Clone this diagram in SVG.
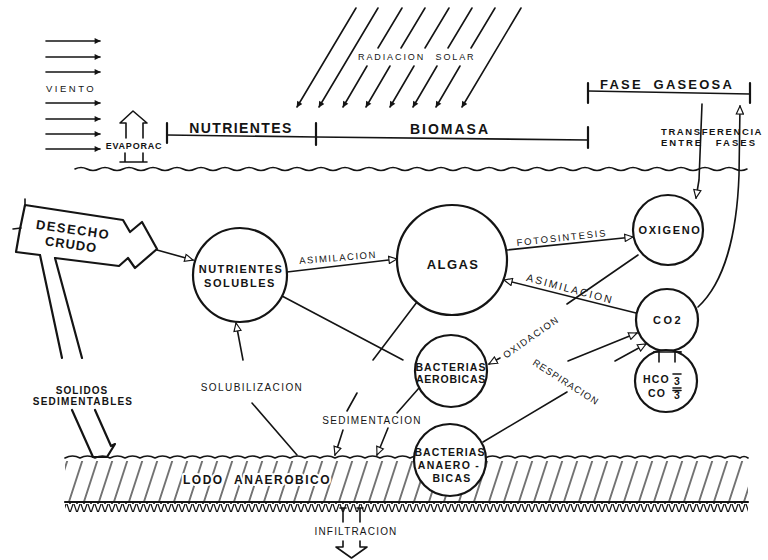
<svg xmlns="http://www.w3.org/2000/svg" width="768" height="560" viewBox="0 0 768 560">
<style>
.ln{stroke:#141414;fill:none;stroke-width:1.6;stroke-linecap:round;stroke-linejoin:round}
.thk{stroke-width:2.2}
.node circle{fill:#fff;stroke:#141414;stroke-width:2.2}
.t{font-family:"Liberation Sans",Arial,sans-serif;fill:#141414}
.b{font-weight:bold}
.halo{stroke:#fff;stroke-width:4;paint-order:stroke;stroke-linejoin:round}
.arr{marker-end:url(#open)}
.sol{marker-end:url(#solid)}
</style>
<defs>
<marker id="open" viewBox="0 0 10 10" refX="9.5" refY="5" markerWidth="10" markerHeight="9" orient="auto" markerUnits="userSpaceOnUse">
<path d="M0.5,1 L9.5,5 L0.5,9 Z" fill="#fff" stroke="#141414" stroke-width="1.3"/>
</marker>
<marker id="solid" viewBox="0 0 10 10" refX="9" refY="5" markerWidth="7" markerHeight="6" orient="auto" markerUnits="userSpaceOnUse">
<path d="M0,0 L10,5 L0,10 Z" fill="#141414"/>
</marker>
<pattern id="hatch" width="15" height="50" patternUnits="userSpaceOnUse" patternTransform="skewX(-18)">
<line x1="7" y1="-2" x2="7" y2="52" stroke="#141414" stroke-width="1.2"/>
</pattern>
<pattern id="ground" width="7" height="9" patternUnits="userSpaceOnUse">
<path d="M0,9 L3,0 M4,0 L7,9" stroke="#141414" stroke-width="1.2" fill="none"/>
</pattern>
</defs>
<rect width="768" height="560" fill="#fff"/>

<!-- wind -->
<g id="viento">
<path class="ln sol" d="M46,41 H100"/>
<path class="ln sol" d="M46,57 H100"/>
<path class="ln sol" d="M46,72 H100"/>
<path class="ln sol" d="M46,103 H100"/>
<path class="ln sol" d="M46,119 H100"/>
<path class="ln sol" d="M46,134 H100"/>
<path class="ln sol" d="M46,149 H100"/>
<text class="t" x="46" y="91.5" font-size="9.5" letter-spacing="2.5">VIENTO</text>
</g>

<!-- evaporation -->
<g id="evaporac">
<path class="ln" d="M126,138 L126,123 L120,123 L133,111 L147,123 L143,123 L143,138"/>
<text class="t b" x="134" y="149" font-size="9" letter-spacing="0.8" text-anchor="middle">EVAPORAC</text>
<path class="ln" d="M125,153 V162 M143,153 V162 M120,162 H147"/>
</g>

<!-- solar radiation -->
<g id="radiacion">
<path class="ln sol" d="M356,8 L297,107"/>
<path class="ln sol" d="M378,8 L319,107"/>
<path class="ln sol" d="M367,66 L343,107"/>
<path class="ln sol" d="M390,66 L366,107"/>
<path class="ln sol" d="M414,66 L390,107"/>
<path class="ln sol" d="M437,66 L413,107"/>
<path class="ln sol" d="M460,66 L436,107"/>
<path class="ln sol" d="M521,8 L462,107"/>
<path class="ln" d="M402,8 L378,48 M425,8 L401,48 M449,8 L425,48 M472,8 L448,48 M495,8 L471,48"/>
<text class="t" x="358" y="60" font-size="9" letter-spacing="1.9" word-spacing="6">RADIACION SOLAR</text>
</g>

<!-- phase bars -->
<g id="nutrientes-bar">
<path class="ln thk" d="M167,123 V143 M316,123 V145"/>
<path class="ln" d="M167,135 L316,137"/>
<text class="t b" x="241" y="133" font-size="14" letter-spacing="1.4" text-anchor="middle">NUTRIENTES</text>
</g>
<g id="biomasa-bar">
<path class="ln" d="M316,137 L588,140"/>
<path class="ln thk" d="M588,127 V148"/>
<text class="t b" x="450" y="134" font-size="14" letter-spacing="2" text-anchor="middle">BIOMASA</text>
</g>
<g id="fase-gaseosa">
<path class="ln thk" d="M588,83 V103 M750,83 V103"/>
<path class="ln" d="M588,91 L750,94"/>
<text class="t b" x="600" y="89" font-size="13" letter-spacing="2.2" word-spacing="5">FASE GASEOSA</text>
</g>
<g id="transferencia">
<text class="t b" x="661" y="135" font-size="9.5" letter-spacing="1.6">TRANSFERENCIA</text>
<text class="t b" x="661" y="146" font-size="9.5" letter-spacing="2" word-spacing="8">ENTRE FASES</text>
</g>

<!-- water surface -->
<g id="superficie">
<path class="ln" stroke-width="1.3" d="M75,169 q6,-3 12,0 t12,0 t12,0 t12,0 t12,0 t12,0 t12,0 t12,0 t12,0 t12,0 t12,0 t12,0 t12,0 t12,0 t12,0 t12,0 t12,0 t12,0 t12,0 t12,0 t12,0 t12,0 t12,0 t12,0 t12,0 t12,0 t12,0 t12,0 t12,0 t12,0 t12,0 t12,0 t12,0 t12,0 t12,0 t12,0 t12,0 t12,0 t12,0 t12,0 t12,0 t12,0 t12,0 t12,0 t12,0 t12,0 t12,0 t12,0 t12,0 t12,0 t12,0 t12,0 t12,0 t12,0 t12,0 t12,0"/>
</g>

<!-- sludge layer -->
<g id="lodo">
<rect x="65" y="461" width="683" height="40" fill="url(#hatch)"/>
<path class="ln" stroke-width="1.3" d="M65,458 q7.5,-4 15,0 q7.5,-4 15,0 q7.5,-4 15,0 q7.5,-4 15,0 q7.5,-4 15,0 q7.5,-4 15,0 q7.5,-4 15,0 q7.5,-4 15,0 q7.5,-4 15,0 q7.5,-4 15,0 q7.5,-4 15,0 q7.5,-4 15,0 q7.5,-4 15,0 q7.5,-4 15,0 q7.5,-4 15,0 q7.5,-4 15,0 q7.5,-4 15,0 q7.5,-4 15,0 q7.5,-4 15,0 q7.5,-4 15,0 q7.5,-4 15,0 q7.5,-4 15,0 q7.5,-4 15,0 q7.5,-4 15,0 q7.5,-4 15,0 q7.5,-4 15,0 q7.5,-4 15,0 q7.5,-4 15,0 q7.5,-4 15,0 q7.5,-4 15,0 q7.5,-4 15,0 q7.5,-4 15,0 q7.5,-4 15,0 q7.5,-4 15,0 q7.5,-4 15,0 q7.5,-4 15,0 q7.5,-4 15,0 q7.5,-4 15,0 q7.5,-4 15,0 q7.5,-4 15,0 q7.5,-4 15,0 q7.5,-4 15,0 q7.5,-4 15,0 q7.5,-4 15,0 q7.5,-4 15,0 q4,-3 8,0"/>
<rect x="65" y="503" width="683" height="9" fill="url(#ground)"/>
<path class="ln thk" d="M65,502 H748"/>
<text class="t b halo" x="183" y="484" font-size="12" letter-spacing="1.5" word-spacing="6">LODO ANAEROBICO</text>
</g>

<!-- infiltration -->
<g id="infiltracion">
<path class="ln" d="M343,508 V522 M360,508 V522 M340,508 H346 M357,508 H363"/>
<text class="t" x="356" y="534.5" font-size="10" letter-spacing="1.2" text-anchor="middle">INFILTRACION</text>
<path class="ln" d="M343,541 L343,547 L336,547 L351.5,558 L367,547 L360,547 L360,541"/>
</g>

<!-- raw waste -->
<g id="desecho-crudo">
<path class="ln thk" d="M40,255 L16,252 L20,229 L25,205 L123,220 L130,232 L142,222 L157,249 L135,268 L128,258 L119,266 L55,258"/>
<path class="ln" d="M25,199 L25,206 M13,229 L21,228"/>
<g transform="rotate(8 72 238)">
<text class="t b" x="72" y="234" font-size="13" letter-spacing="1.5" text-anchor="middle">DESECHO</text>
<text class="t b" x="72" y="249" font-size="13" letter-spacing="1" text-anchor="middle">CRUDO</text>
</g>
</g>

<!-- settleable solids -->
<g id="solidos-sedimentables">
<path class="ln thk" d="M40,255 L62,358 M55,258 L82,358"/>
<path class="ln thk" d="M72,410 L93,457 L107,457 L115,444 L111,446 M95,410 L111,446"/>
<text class="t b" x="82" y="393.5" font-size="10" letter-spacing="1.1" text-anchor="middle">SOLIDOS</text>
<text class="t b" x="83" y="404.5" font-size="10" letter-spacing="1.2" text-anchor="middle">SEDIMENTABLES</text>
</g>

<!-- connectors -->
<g id="conectores">
<path class="ln arr" d="M157,250 L193,260"/>
<path class="ln arr" d="M287,272 L397,259"/>
<path class="ln arr" d="M507,250 L633,237"/>
<path class="ln arr" d="M636,313 L504,280"/>
<path class="ln" d="M638,255 L567,304"/>
<path class="ln arr" d="M500,358 L489,364"/>
<path class="ln" d="M483,442 L567,392"/>
<path class="ln arr" d="M568,361 L637,333"/>
<path class="ln arr" d="M615,361 L646,344"/>
<path class="ln" d="M282,296 L403,360"/>
<path class="ln" d="M417,302 L373,360 M357,393 L347,411"/>
<path class="ln arr" d="M343,430 L335,455"/>
<path class="ln" d="M419,388 L397,413"/>
<path class="ln arr" d="M388,428 L377,455"/>
<path class="ln" d="M297,455 L252,403"/>
<path class="ln arr" d="M243,360 L236,323"/>
<path class="ln arr" d="M702,104 L699,180 L696,198"/>
<path class="ln arr" d="M698,307 C725,282 737,232 739,175 L740,106"/>
<path class="ln arr" d="M659,361 L659,341"/>
<path class="ln" d="M675,361 L675,339 M669,339 H681 M654,352 H681"/>
<text class="t" transform="rotate(-4.5 338 258)" x="338" y="261" font-size="9.5" letter-spacing="1.5" text-anchor="middle">ASIMILACION</text>
<text class="t" transform="rotate(-6.3 562 238)" x="562" y="241" font-size="9.5" letter-spacing="1.8" text-anchor="middle">FOTOSINTESIS</text>
<text class="t" transform="rotate(15 570 289)" x="570" y="292.5" font-size="10.5" letter-spacing="2" text-anchor="middle">ASIMILACION</text>
<text class="t halo" transform="rotate(-35 531 337)" x="531" y="340.5" font-size="9.5" letter-spacing="1.4" text-anchor="middle">OXIDACION</text>
<text class="t halo" transform="rotate(32.6 566 382)" x="566" y="385.5" font-size="9.5" letter-spacing="1" text-anchor="middle">RESPIRACION</text>
<text class="t halo" x="372" y="423.5" font-size="10" letter-spacing="1.3" text-anchor="middle">SEDIMENTACION</text>
<text class="t halo" x="252" y="390.5" font-size="10" letter-spacing="1.4" text-anchor="middle">SOLUBILIZACION</text>
</g>

<!-- nodes -->
<g id="nutrientes-solubles" class="node">
<circle cx="240" cy="275" r="47"/>
<text class="t b" x="241" y="273" font-size="11" letter-spacing="1.4" text-anchor="middle">NUTRIENTES</text>
<text class="t b" x="240" y="287" font-size="11" letter-spacing="1.5" text-anchor="middle">SOLUBLES</text>
</g>
<g id="algas" class="node">
<circle cx="452" cy="260" r="55"/>
<text class="t b" x="453" y="268.5" font-size="13" letter-spacing="1.4" text-anchor="middle">ALGAS</text>
</g>
<g id="oxigeno" class="node">
<circle cx="668" cy="230" r="35"/>
<text class="t b" x="670" y="234" font-size="11" letter-spacing="1.7" text-anchor="middle">OXIGENO</text>
</g>
<g id="co2" class="node">
<circle cx="667" cy="320" r="31"/>
<text class="t b" x="668" y="324" font-size="11" letter-spacing="2.5" text-anchor="middle">CO2</text>
</g>
<g id="hco3-co3" class="node">
<circle cx="666" cy="381" r="31"/>
<path class="ln" d="M659,351 V362 M675,351 V362 M654,352 H681"/>
<text class="t b" x="643" y="383" font-size="10.5" letter-spacing="1.2">HCO</text>
<text class="t b" x="674" y="385" font-size="10.5">3</text>
<text class="t b" x="648" y="397" font-size="10.5" letter-spacing="1.2">CO</text>
<text class="t b" x="674" y="399" font-size="10.5">3</text>
<path class="ln" stroke-width="1.2" d="M673,374 H681 M673,388 H681 M673,390.5 H681"/>
</g>
<g id="bacterias-aerobicas" class="node">
<circle cx="451" cy="371" r="36"/>
<text class="t b" x="451" y="371" font-size="10.5" letter-spacing="1.1" text-anchor="middle">BACTERIAS</text>
<text class="t b" x="451" y="383" font-size="10.5" letter-spacing="0.8" text-anchor="middle">AEROBICAS</text>
</g>
<g id="bacterias-anaerobicas" class="node">
<circle cx="450" cy="460" r="36"/>
<text class="t b" x="450" y="456" font-size="10.5" letter-spacing="1.1" text-anchor="middle">BACTERIAS</text>
<text class="t b" x="449" y="469" font-size="10.5" letter-spacing="1.3" text-anchor="middle">ANAERO -</text>
<text class="t b" x="452" y="482" font-size="10.5" letter-spacing="1.3" text-anchor="middle">BICAS</text>
</g>
</svg>
